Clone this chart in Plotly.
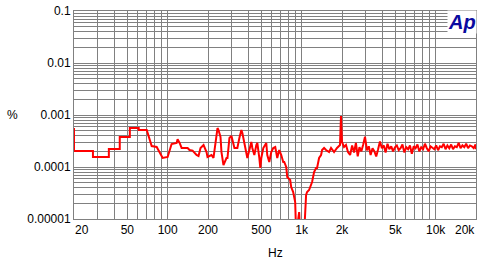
import math
import plotly.graph_objects as go

# ---- data (Hz, %) ----
freq_hz = [
    20, 20, 27.7, 27.7, 36.4, 36.4, 43.9, 43.9, 52.2, 52.2, 60.8, 60.8, 69.8,
    76.0, 82.8, 87.1, 91.8, 100, 107, 116.7, 118.6, 122.8, 127.1, 140.9, 145.6,
    153.4, 164.2, 169.9, 175.9, 185.3, 195.0, 198.3, 212.4, 219.8, 227.5, 235.5,
    239.5, 247.9, 252.1, 256.5, 260.9, 274.8, 279.4, 289.1, 299.3, 315.0, 331.3,
    342.9, 354.9, 361.0, 373.6, 386.6, 393.2, 407.0, 421.2, 428.4, 443.4, 458.9,
    466.8, 483.1, 491.4, 499.9, 517.3, 544.4, 553.8, 573.1, 593.1, 613.8, 635.2,
    657.4, 680.3, 704.1, 716.2, 728.6, 741.1, 767.0, 780.2, 821.1, 835.2, 864.4,
    894.6, 910.0, 957.7, 975, 1043, 1079, 1098, 1136, 1196, 1238, 1281, 1303,
    1349, 1396, 1420, 1470, 1521, 1601, 1657, 1745, 1836, 1932, 1966, 2000, 2070,
    2142, 2217,
    2300, 2380, 2460, 2540, 2620, 2700, 2790, 2880, 2970, 3070, 3170, 3270, 3380,
    3490, 3600, 3720, 3840, 3970, 4100, 4230, 4370, 4510, 4660, 4810, 4970, 5130,
    5300, 5470, 5650, 5840, 6030, 6230, 6430, 6640, 6860, 7080, 7310, 7550, 7800,
    8060, 8320, 8590, 8870, 9160, 9460, 9770, 10090, 10420, 10760, 11110, 11470,
    11850, 12240, 12640, 13050, 13480, 13920, 14380, 14850, 15340, 15840, 16360,
    16890, 17450, 18020, 18610, 19220, 19850, 20000,
]
thd_pct = [
    0.00056, 0.000203, 0.000203, 0.000156, 0.000156, 0.000222, 0.000222, 0.000378,
    0.000378, 0.00056, 0.00056, 0.000515, 0.000515,
    0.000253, 0.000243, 0.000194, 0.000149, 0.000156, 0.000277, 0.00029, 0.00034,
    0.00029, 0.000232, 0.000232, 0.000212, 0.000207, 0.00017, 0.000163, 0.000232,
    0.000265, 0.000194, 0.000156, 0.00017, 0.000149, 0.00033, 0.000562, 0.000515,
    0.000378, 0.000194, 0.000149, 0.000109, 0.000149, 0.000149, 0.000361, 0.000395,
    0.000232, 0.000232, 0.000361, 0.000515, 0.000451, 0.000303, 0.000194, 0.000149,
    0.000212, 0.000303, 0.000232, 0.00017, 0.000265, 0.00029, 0.000149, 0.0000957,
    0.000149, 0.000232, 0.00029, 0.00017, 0.000125, 0.000194, 0.000232, 0.000243,
    0.000149, 0.000212, 0.00017, 0.000149, 0.000125, 0.000125, 0.0001, 0.0000643,
    0.0000562, 0.0000412, 0.000033, 0.0000212, 0.000005, 0.0000136, 0.000005,
    0.000005, 0.000029, 0.000033, 0.0000361, 0.0000515, 0.0000802, 0.0000957,
    0.0000957, 0.000149, 0.00017, 0.000212, 0.000232, 0.000212, 0.000194, 0.000232,
    0.000194, 0.000232, 0.000265, 0.00096, 0.000303, 0.000243, 0.000265, 0.000194,
    0.00017, 0.00026, 0.00019, 0.00029, 0.00016, 0.00024, 0.00020, 0.00027, 0.00038,
    0.00021, 0.00025, 0.00017, 0.00023, 0.00020, 0.00016, 0.00022, 0.00031, 0.00023,
    0.00026, 0.00019, 0.00028, 0.00022, 0.00025, 0.00020, 0.00024, 0.00026, 0.00021,
    0.00023, 0.00027, 0.00019, 0.00024, 0.00022, 0.00026, 0.00018, 0.00025, 0.00023,
    0.00027, 0.00020, 0.00024, 0.00022, 0.00028, 0.00023, 0.00020, 0.00025, 0.00023,
    0.00022, 0.00026, 0.00021, 0.00025, 0.00024, 0.00028, 0.00022, 0.00026, 0.00023,
    0.00027, 0.00022, 0.00025, 0.00024, 0.00029, 0.00023, 0.00026, 0.00024, 0.00028,
    0.00023, 0.00026, 0.00025, 0.00023, 0.00027, 0.00022,
]

x_grid = [30, 40, 50, 60, 70, 80, 90,
          100, 200, 300, 400, 500, 600, 700, 800, 900,
          1000, 2000, 3000, 4000, 5000, 6000, 7000, 8000, 9000, 10000]
x_labels = {50: "50", 100: "100", 200: "200", 500: "500", 1000: "1k",
            2000: "2k", 5000: "5k", 10000: "10k"}
x_edge_labels = [(20, "20", 8), (20000, "20k", -11)]

y_major = [0.1, 0.01, 0.001, 0.0001, 0.00001]
y_major_text = ["0.1", "0.01", "0.001", "0.0001", "0.00001"]
y_grid = []
y_text = []
for m, t in zip(y_major, y_major_text):
    y_grid.append(m)
    y_text.append(t)
    if m < 0.1:
        for k in range(2, 10):
            y_grid.append(m * k)
            y_text.append("")

GRID = "#808080"
FONT = "Liberation Sans, Arial, sans-serif"
W, H, ML, MR, MT, MB = 490, 260, 74, 14, 11, 41
PW, PH = W - ML - MR, H - MT - MB

fig = go.Figure()
fig.add_trace(go.Scatter(x=freq_hz, y=thd_pct, mode="lines",
                         line=dict(color="#ff0000", width=2), showlegend=False))

fig.update_layout(
    width=W, height=H,
    margin=dict(l=ML, r=MR, t=MT, b=MB, autoexpand=False),
    paper_bgcolor="white", plot_bgcolor="white",
    font=dict(family=FONT, size=12, color="black"),
    xaxis=dict(type="log", range=[math.log10(20), math.log10(20000)],
               tickvals=x_grid, ticktext=[x_labels.get(v, "") for v in x_grid],
               showgrid=True, gridcolor=GRID, gridwidth=1, automargin=False,
               showline=True, linecolor=GRID, linewidth=1, mirror=True,
               ticks="", zeroline=False, tickfont=dict(size=12)),
    yaxis=dict(type="log", range=[-5, -1],
               tickvals=y_grid, ticktext=y_text,
               showgrid=True, gridcolor=GRID, gridwidth=1, automargin=False,
               showline=True, linecolor=GRID, linewidth=1, mirror=True,
               ticks="", zeroline=False, tickfont=dict(size=12)),
)

for v, t, sh in x_edge_labels:
    fig.add_annotation(x=math.log10(v), y=0, xref="x", yref="paper", text=t,
                       showarrow=False, xshift=sh, xanchor="center",
                       yanchor="top", yshift=-2,
                       font=dict(family=FONT, size=12, color="black"))

fig.add_annotation(x=(12 - ML) / PW, y=(H - MB - 115) / PH, xref="paper", yref="paper",
                   text="%", showarrow=False, xanchor="center", yanchor="middle",
                   font=dict(family=FONT, size=12))
fig.add_annotation(x=0.5, y=(H - MB - 253) / PH, xref="paper", yref="paper",
                   text="Hz", showarrow=False, xanchor="center", yanchor="middle",
                   font=dict(family=FONT, size=12))

fig.add_annotation(x=(462 - ML) / PW, y=(H - MB - 22) / PH, xref="paper", yref="paper",
                   text="<b><i>Ap</i></b>", showarrow=False,
                   xanchor="center", yanchor="middle",
                   bgcolor="white", borderpad=0,
                   font=dict(family=FONT, size=20, color="#0a0aa0"))

fig.write_html("out.html")
